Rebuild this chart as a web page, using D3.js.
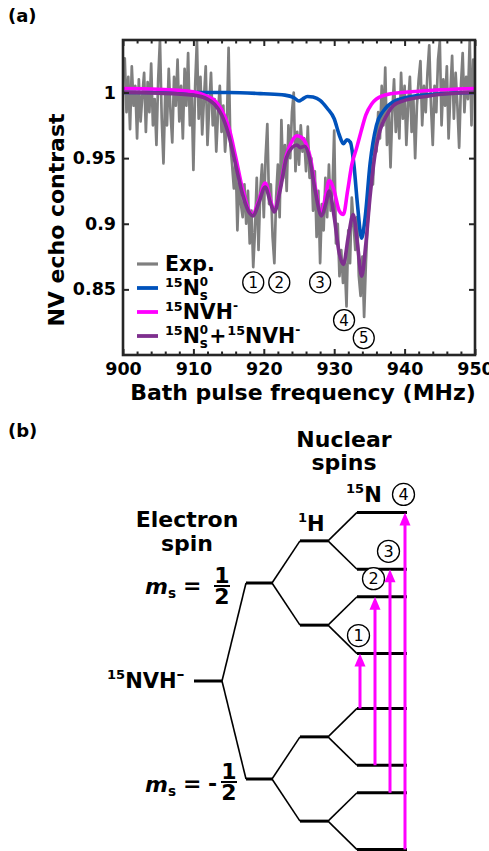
<!DOCTYPE html>
<html><head><meta charset="utf-8">
<script src="https://cdn.jsdelivr.net/npm/d3@7"></script>
<style>
body{margin:0;background:#fff}
svg{display:block}
text{font-family:"DejaVu Sans",sans-serif;fill:#000}
</style>
</head><body>
<svg id="c" width="489" height="851"></svg>
<script>
// ---------------- DATA (panel a) ----------------
const xDomain = [900, 950];
const yDomain = [0.80, 1.04];
const xTicks = [900, 910, 920, 930, 940, 950];
const xMinorTicks = [902,904,906,908,912,914,916,918,922,924,926,928,932,934,936,938,942,944,946,948];
const yTicks = [0.85, 0.9, 0.95, 1];
const yTickLabels = ["0.85", "0.9", "0.95", "1"];
const xLabel = "Bath pulse frequency (MHz)";
const yLabel = "NV echo contrast";

// experimental data, 0.25 MHz sampling from 900 MHz
const expStart = 900, expStep = 0.25;
const expValues = [
 1.018,1.026,0.985,1.012, 0.972,1.020,0.990,1.005, 0.965,1.010,0.978,0.998, 1.015,0.970,1.008,0.985,
 1.022,0.975,0.995,0.960, 1.010,1.040,0.980,0.946, 1.000,0.975,1.018,0.985, 0.962,1.012,0.990,1.025,
 0.978,1.005,0.965,1.018, 0.990,1.030,0.975,1.000, 0.941,1.005,1.040,0.980, 1.012,0.968,0.995,1.020,
 0.960,0.990,1.015,0.975, 0.995,0.955,0.985,1.005, 0.970,0.990,0.955,0.975, 1.034,0.960,0.945,0.927,
 0.950,0.895,0.935,0.915, 0.905,0.930,0.900,0.925, 0.885,0.910,0.867,0.895, 0.935,0.880,0.925,0.945,
 0.905,0.950,0.976,0.915, 0.930,0.890,0.870,0.920, 0.945,0.905,0.979,0.935, 0.960,0.925,0.975,0.950,
 0.985,1.000,0.940,0.970, 0.945,0.975,0.955,0.965, 0.940,0.974,0.935,0.950, 0.910,0.940,0.890,0.925,
 0.870,0.915,0.895,0.935, 0.905,0.945,0.910,0.925, 0.971,0.885,0.900,0.860, 0.880,0.855,0.870,0.837,
 0.895,0.870,0.920,0.900, 0.880,0.905,0.860,0.845, 0.875,0.829,0.870,0.900, 0.915,0.950,0.930,0.965,
 0.955,0.985,0.965,1.005, 0.975,1.019,0.960,0.990, 0.943,0.985,1.010,0.970, 0.995,0.965,1.015,0.980,
 1.005,0.960,0.990,1.012, 0.970,0.995,0.950,0.990, 1.010,1.024,0.975,1.005, 0.985,1.015,1.036,0.990,
 0.960,1.005,0.985,1.025, 1.039,0.975,1.010,0.990, 1.020,0.965,1.000,1.028, 0.980,1.015,0.990,0.958,
 1.005,1.030,0.985,1.012, 0.995,1.040,0.975,1.025, 1.000
];

// 15N_s^0 simulation
const nsFreq   = [900, 915, 920, 923, 924.3, 925, 925.5, 926.2, 927, 928, 929, 930, 930.7, 931.3, 931.8, 932.3, 932.8, 933.3, 933.9, 934.4, 935.1, 936, 937, 938.4, 941, 945, 950];
const nsValues = [1.0, 1.0, 0.999, 0.998, 0.996, 0.9935, 0.995, 0.997, 0.9965, 0.994, 0.988, 0.980, 0.968, 0.961, 0.964, 0.962, 0.945, 0.915, 0.889, 0.905, 0.946, 0.975, 0.986, 0.993, 0.997, 0.999, 1.0];

// 15NVH- simulation
const nvhFreq   = [900, 905, 910, 912, 913, 914, 915, 916, 917, 918, 918.4, 919.3, 920.2, 921, 921.5, 922.3, 923.2, 924, 924.7, 925.3, 926, 926.7, 927.4, 928.2, 928.8, 929.3, 930, 930.7, 931.3, 931.9, 932.5, 933.2, 933.8, 934.5, 935.3, 936, 938, 942, 950];
const nvhValues = [1.003, 1.0025, 1.0005, 0.997, 0.994, 0.987, 0.974, 0.951, 0.926, 0.909, 0.907, 0.918, 0.931, 0.917, 0.910, 0.927, 0.952, 0.963, 0.967, 0.966, 0.961, 0.948, 0.925, 0.908, 0.922, 0.933, 0.925, 0.910, 0.907, 0.925, 0.945, 0.958, 0.970, 0.983, 0.991, 0.995, 0.999, 1.001, 1.003];

// 15N_s^0 + 15NVH- simulation
const sumFreq   = [900, 905, 910, 912, 913, 914, 915, 916, 917, 918, 918.5, 919.3, 920.2, 921, 921.5, 922.3, 923.2, 924, 924.7, 925.2, 925.8, 926.5, 927.3, 928.2, 928.8, 929.3, 930, 930.7, 931.3, 932, 932.7, 933.3, 933.9, 934.5, 935.1, 935.8, 936.5, 937.5, 938.4, 940, 943, 946, 950];
const sumValues = [1.0, 0.9995, 0.998, 0.995, 0.991, 0.983, 0.968, 0.945, 0.922, 0.908, 0.906, 0.916, 0.928, 0.915, 0.909, 0.925, 0.950, 0.958, 0.960, 0.958, 0.959, 0.950, 0.925, 0.906, 0.915, 0.925, 0.905, 0.878, 0.869, 0.890, 0.907, 0.885, 0.860, 0.885, 0.921, 0.953, 0.971, 0.983, 0.990, 0.994, 0.997, 0.999, 1.0];

// peak annotations (label, frequency, contrast)
const peakLabels = ["1", "2", "3", "4", "5"];
const peakFreq   = [918.5, 922.2, 928.0, 931.4, 934.2];
const peakY      = [0.8553, 0.8553, 0.8553, 0.8265, 0.8129];

// legend
const legendNames = [
  [{t:"Exp."}],
  [{t:"15",s:0.62,dy:-0.40},{t:"N"},{t:"0",s:0.58,dy:-0.42},{t:"s",s:0.66,dy:0.22,stack:true}],
  [{t:"15",s:0.62,dy:-0.40},{t:"NVH"},{t:"-",s:0.6,dy:-0.45}],
  [{t:"15",s:0.62,dy:-0.40},{t:"N"},{t:"0",s:0.58,dy:-0.42},{t:"s",s:0.66,dy:0.22,stack:true,gap:1},{t:"+",s:1,gap:1},{t:"15",s:0.62,dy:-0.40},{t:"NVH"},{t:"-",s:0.6,dy:-0.45}]
];

// ---------------- DATA (panel b) ----------------
const electronE = [1, -1];          // ms = +1/2, -1/2
const hSplit = 0.43;                // 1H hyperfine offset
const nSplit = 0.29;                // 15N hyperfine offset
const transitions = [
  {id:"1", lo:[ 1, 1], hi:[-1,-1]},
  {id:"2", lo:[ 1,-1], hi:[-1, 1]},
  {id:"3", lo:[-1, 1], hi:[ 1,-1]},
  {id:"4", lo:[-1,-1], hi:[ 1, 1]}
];

// ---------------- STYLE ----------------
const C = {gray:"#7f7f7f", blue:"#0052bb", magenta:"#ff00ff", purple:"#7e2f8e", axis:"#262626"};
const seriesColors = [C.gray, C.blue, C.magenta, C.purple];

const svg = d3.select("#c");

// rich text helper (superscripts / subscripts)
function rich(parent, x, y, segs, size, anchor, weight) {
  const g = parent.append("g");
  let cx = 0, prevStart = 0;
  segs.forEach(s => {
    const fs = size * (s.s || 1);
    const start = s.stack ? prevStart : cx;
    const t = g.append("text").attr("x", start).attr("y", (s.dy || 0) * size)
      .attr("font-size", fs).attr("font-weight", s.w || weight || "bold")
      .attr("font-style", s.i ? "italic" : "normal").text(s.t);
    const w = t.node().getComputedTextLength();
    if (s.stack) cx = Math.max(cx, start + w) + (s.gap || 0);
    else { prevStart = start; cx = start + w + (s.gap || 0); }
  });
  const ox = anchor === "middle" ? x - cx / 2 : anchor === "end" ? x - cx : x;
  g.attr("transform", `translate(${ox},${y})`);
  return g;
}

// ---------------- PANEL A ----------------
const L = 123, R = 475, T = 40, B = 355;
const x = d3.scaleLinear().domain(xDomain).range([L, R]);
const y = d3.scaleLinear().domain(yDomain).range([B, T]);

svg.append("text").attr("x", 8).attr("y", 22).attr("font-size", 18).attr("font-weight", "bold").text("(a)");

svg.append("defs").append("clipPath").attr("id", "clipA")
  .append("rect").attr("x", L).attr("y", T).attr("width", R - L).attr("height", B - T);

const plot = svg.append("g").attr("clip-path", "url(#clipA)");
const expPts = expValues.map((v, i) => [expStart + i * expStep, v]);
const lineLin = d3.line().x(d => x(d[0])).y(d => y(d[1]));
const lineSmooth = d3.line().x(d => x(d[0])).y(d => y(d[1])).curve(d3.curveMonotoneX);

plot.append("path").datum(expPts).attr("d", lineLin)
  .attr("fill", "none").attr("stroke", C.gray).attr("stroke-width", 2.7).attr("stroke-linejoin", "round");

const fits = [
  {f: nsFreq, v: nsValues, c: C.blue},
  {f: nvhFreq, v: nvhValues, c: C.magenta},
  {f: sumFreq, v: sumValues, c: C.purple}
];
fits.forEach(s => {
  plot.append("path").datum(s.f.map((f, i) => [f, s.v[i]])).attr("d", lineSmooth)
    .attr("fill", "none").attr("stroke", s.c).attr("stroke-width", 3.6).attr("stroke-linejoin", "round");
});

// axes
function styleAxis(g, labels) {
  g.select(".domain").remove();
  g.selectAll(".tick line").attr("stroke", C.axis).attr("stroke-width", 2);
  g.selectAll(".tick text").attr("font-size", 17.5).attr("font-weight", "bold")
    .attr("font-family", "DejaVu Sans").attr("fill", "#000");
  if (!labels) g.selectAll(".tick text").remove();
}
styleAxis(svg.append("g").attr("transform", `translate(0,${B})`)
  .call(d3.axisBottom(x).tickValues(xTicks).tickSize(-6).tickPadding(8).tickFormat(d3.format("d"))), true);
styleAxis(svg.append("g").attr("transform", `translate(0,${B})`)
  .call(d3.axisBottom(x).tickValues(xMinorTicks).tickSize(-3.5)), false);
styleAxis(svg.append("g").attr("transform", `translate(0,${T})`)
  .call(d3.axisTop(x).tickValues(xTicks).tickSize(-6)), false);
styleAxis(svg.append("g").attr("transform", `translate(0,${T})`)
  .call(d3.axisTop(x).tickValues(xMinorTicks).tickSize(-3.5)), false);
styleAxis(svg.append("g").attr("transform", `translate(${L},0)`)
  .call(d3.axisLeft(y).tickValues(yTicks).tickSize(-6).tickPadding(7)
    .tickFormat((d, i) => yTickLabels[i])), true);
styleAxis(svg.append("g").attr("transform", `translate(${R},0)`)
  .call(d3.axisRight(y).tickValues(yTicks).tickSize(-6)), false);

svg.append("rect").attr("x", L).attr("y", T).attr("width", R - L).attr("height", B - T)
  .attr("fill", "none").attr("stroke", C.axis).attr("stroke-width", 2.6);

svg.append("text").attr("x", 303).attr("y", 400).attr("text-anchor", "middle")
  .attr("font-size", 22).attr("font-weight", "bold").text(xLabel);
svg.append("text").attr("transform", "translate(64,220) rotate(-90)").attr("text-anchor", "middle")
  .attr("font-size", 22).attr("font-weight", "bold").text(yLabel);

// legend
const legY = [264, 288, 312, 336];
legendNames.forEach((segs, i) => {
  svg.append("line").attr("x1", 137).attr("x2", 158).attr("y1", legY[i]).attr("y2", legY[i])
    .attr("stroke", seriesColors[i]).attr("stroke-width", i === 0 ? 3.2 : 3.8);
  rich(svg, 165, legY[i] + 7, segs, 20.5, "start");
});

// circled peak labels
function circled(parent, cx, cy, label, r, fs) {
  parent.append("circle").attr("cx", cx).attr("cy", cy).attr("r", r)
    .attr("fill", "#fff").attr("stroke", "#000").attr("stroke-width", 1.3);
  parent.append("text").attr("x", cx).attr("y", cy + fs * 0.36).attr("text-anchor", "middle")
    .attr("font-size", fs).text(label);
}
peakLabels.forEach((lab, i) => circled(svg, x(peakFreq[i]), y(peakY[i]), lab, 10.5, 15));

// ---------------- PANEL B ----------------
svg.append("text").attr("x", 8).attr("y", 437).attr("font-size", 18).attr("font-weight", "bold").text("(b)");

const yE = d3.scaleLinear().domain([-1, 1]).range([779, 583]);
const col = {nvh:[194, 222], el:[246, 272], h:[300, 328], n:[357, 407]};
const diag = svg.append("g");
function level(x1, x2, e) {
  diag.append("line").attr("x1", x1).attr("x2", x2).attr("y1", yE(e)).attr("y2", yE(e))
    .attr("stroke", "#000").attr("stroke-width", 3);
}
function link(x1, e1, x2, e2) {
  diag.append("line").attr("x1", x1).attr("x2", x2).attr("y1", yE(e1)).attr("y2", yE(e2))
    .attr("stroke", "#000").attr("stroke-width", 1.6);
}
level(col.nvh[0], col.nvh[1], 0);
electronE.forEach(ee => {
  link(col.nvh[1], 0, col.el[0], ee);
  level(col.el[0], col.el[1], ee);
  [1, -1].forEach(hs => {
    const eh = ee + hs * hSplit;
    link(col.el[1], ee, col.h[0], eh);
    level(col.h[0], col.h[1], eh);
    [1, -1].forEach(ns => {
      const en = eh + ns * nSplit;
      link(col.h[1], eh, col.n[0], en);
      level(col.n[0], col.n[1], en);
    });
  });
});

// transitions
const tx = d3.scalePoint().domain(transitions.map(d => d.id)).range([360, 405]);
transitions.forEach(t => {
  const eLo = -1 + t.lo[0] * hSplit + t.lo[1] * nSplit;
  const eHi = 1 + t.hi[0] * hSplit + t.hi[1] * nSplit;
  const xx = tx(t.id), yTip = yE(eHi), yBot = yE(eLo);
  diag.append("line").attr("x1", xx).attr("x2", xx).attr("y1", yBot).attr("y2", yTip + 8)
    .attr("stroke", C.magenta).attr("stroke-width", 3);
  diag.append("path").attr("d", `M${xx - 5.5},${yTip + 13}L${xx},${yTip}L${xx + 5.5},${yTip + 13}Z`)
    .attr("fill", C.magenta);
  circled(diag, xx - 1.5, yTip - 18, t.id, 11, 16);
});

// labels panel b
svg.append("text").attr("x", 344).attr("y", 447).attr("text-anchor", "middle").attr("font-size", 22).attr("font-weight", "bold").text("Nuclear");
svg.append("text").attr("x", 344).attr("y", 470).attr("text-anchor", "middle").attr("font-size", 22).attr("font-weight", "bold").text("spins");
svg.append("text").attr("x", 187).attr("y", 527).attr("text-anchor", "middle").attr("font-size", 22).attr("font-weight", "bold").text("Electron");
svg.append("text").attr("x", 187).attr("y", 551).attr("text-anchor", "middle").attr("font-size", 22).attr("font-weight", "bold").text("spin");

rich(svg, 346, 502, [{t:"15", s:0.62, dy:-0.42}, {t:"N"}], 21, "start");
rich(svg, 298, 531, [{t:"1", s:0.62, dy:-0.42}, {t:"H"}], 21, "start");
rich(svg, 107, 688, [{t:"15", s:0.62, dy:-0.42}, {t:"NVH"}, {t:"\u2013", s:0.75, dy:-0.45}], 21, "start");

function msLabel(yBase, neg, fracX, barY) {
  rich(svg, 145, yBase, [{t:"m", i:true}, {t:"s", s:0.62, dy:0.18, w:"bold"}], 22, "start");
  svg.append("text").attr("x", 183).attr("y", yBase - 1).attr("font-size", 22).attr("font-weight", "bold").text("=");
  if (neg) svg.append("text").attr("x", 208).attr("y", yBase - 1).attr("font-size", 22).attr("font-weight", "bold").text("-");
  svg.append("text").attr("x", fracX).attr("y", barY - 3).attr("text-anchor", "middle").attr("font-size", 22).attr("font-weight", "bold").text("1");
  svg.append("line").attr("x1", fracX - 8).attr("x2", fracX + 8).attr("y1", barY).attr("y2", barY).attr("stroke", "#000").attr("stroke-width", 2);
  svg.append("text").attr("x", fracX).attr("y", barY + 18).attr("text-anchor", "middle").attr("font-size", 22).attr("font-weight", "bold").text("2");
}
msLabel(594, false, 222, 586);
msLabel(792, true, 229, 782);
</script>
</body></html>
